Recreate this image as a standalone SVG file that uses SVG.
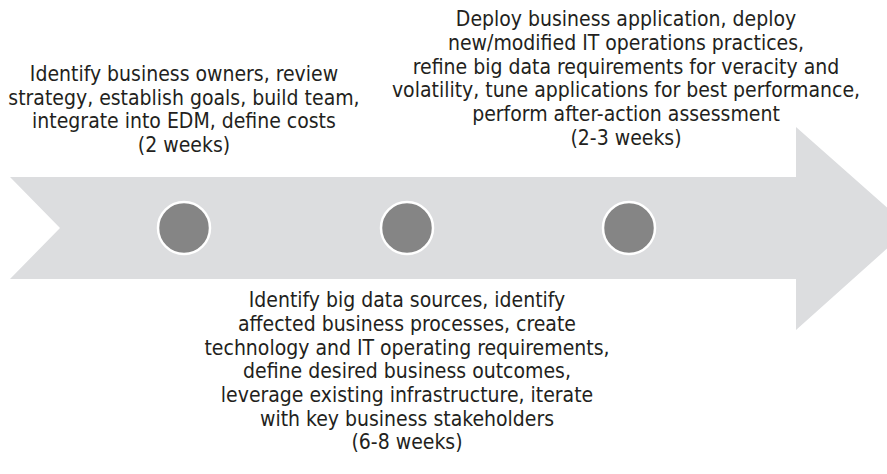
<svg xmlns="http://www.w3.org/2000/svg" width="887" height="474" viewBox="0 0 887 474">
<style>
text{font-family:"Liberation Sans Narrow","DejaVu Sans Condensed","Liberation Sans",sans-serif;font-size:21px;fill:#231f20;text-anchor:middle}
.dot{fill:#858585;stroke:#ffffff;stroke-width:2.5}
</style>
<rect width="887" height="474" fill="#ffffff"/>
<g id="arrow">
<polygon points="10,177 796,177 796,127 910,228 796,330 796,279 10,279 60,228" fill="#dcdddf"/>
</g>
<g id="connectors"></g>
<g id="step1">
<circle class="dot" cx="184" cy="228" r="26"/>
<text x="184" y="81">Identify business owners, review</text>
<text x="184" y="104.5">strategy, establish goals, build team,</text>
<text x="184" y="128">integrate into EDM, define costs</text>
<text x="184" y="152">(2 weeks)</text>
</g>
<g id="step2">
<circle class="dot" cx="407" cy="228" r="26"/>
<text x="407" y="307">Identify big data sources, identify</text>
<text x="407" y="331">affected business processes, create</text>
<text x="407" y="354.5">technology and IT operating requirements,</text>
<text x="407" y="378">define desired business outcomes,</text>
<text x="407" y="402">leverage existing infrastructure, iterate</text>
<text x="407" y="425.5">with key business stakeholders</text>
<text x="407" y="449">(6-8 weeks)</text>
</g>
<g id="step3">
<circle class="dot" cx="629" cy="228" r="26"/>
<text x="626" y="26">Deploy business application, deploy</text>
<text x="626" y="50">new/modified IT operations practices,</text>
<text x="626" y="73.5">refine big data requirements for veracity and</text>
<text x="626" y="97">volatility, tune applications for best performance,</text>
<text x="626" y="121">perform after-action assessment</text>
<text x="626" y="145">(2-3 weeks)</text>
</g>
</svg>
